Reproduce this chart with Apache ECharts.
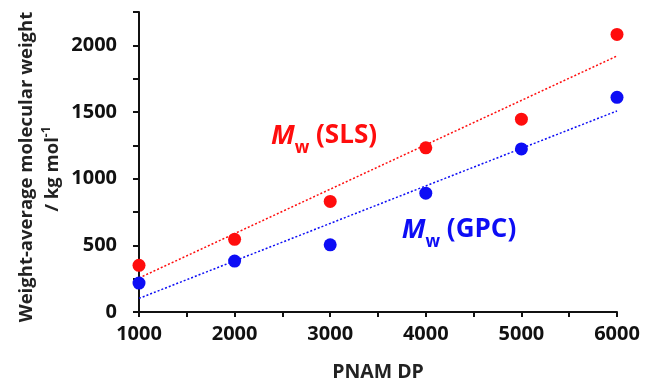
<!DOCTYPE html>
<html><head><meta charset="utf-8">
<script src="https://cdn.jsdelivr.net/npm/echarts@6/dist/echarts.min.js"></script>
<style>html,body{margin:0;padding:0;background:#fff}#c{width:650px;height:383px}</style>
</head><body><div id="c"></div>
<script>
const dp = [1000, 2000, 3000, 4000, 5000, 6000];
const mwSLS = [350, 545, 829, 1231, 1446, 2082];
const mwGPC = [217, 382, 504, 891, 1223, 1610];
const trendX = [1000, 6000];
const trendSLS = [255, 1920];
const trendGPC = [102, 1508];
const RED = '#ff0d0d', BLUE = '#0d0df5';
const FONT = 'Open Sans';
const chart = echarts.init(document.getElementById('c'));
const pairs = (xs, ys) => xs.map((x, i) => [x, ys[i]]);
chart.setOption({
  animation: false,
  textStyle: {fontFamily: FONT},
  grid: {left: 139, right: 33, top: 12, bottom: 71, containLabel: false, outerBoundsMode: 'none'},
  xAxis: {
    type: 'value', min: 1000, max: 6000, interval: 500,
    name: 'PNAM DP', nameLocation: 'middle', nameGap: 50,
    nameTextStyle: {fontFamily: FONT, fontWeight: 'bold', fontSize: 19.5, color: '#222'},
    axisLine: {lineStyle: {color: '#111', width: 2}},
    axisTick: {length: 5, lineStyle: {color: '#111', width: 2}},
    axisLabel: {fontFamily: FONT, fontWeight: 'bold', fontSize: 20, color: '#111', margin: 12,
      formatter: v => (v % 1000 === 0 ? String(v) : '')},
    splitLine: {show: false}
  },
  yAxis: {
    type: 'value', min: 0, max: 2250, interval: 250,
    axisLine: {show: true, lineStyle: {color: '#111', width: 2}},
    axisTick: {show: true, length: 6, lineStyle: {color: '#111', width: 2}},
    axisLabel: {fontFamily: FONT, fontWeight: 'bold', fontSize: 20, color: '#111', margin: 22,
      formatter: v => (v % 500 === 0 ? String(v) : '')},
    splitLine: {show: false}
  },
  series: [
    {type: 'line', data: pairs(trendX, trendSLS), symbol: 'none', z: 1,
      lineStyle: {color: RED, width: 1.5, type: [2, 2]}},
    {type: 'line', data: pairs(trendX, trendGPC), symbol: 'none', z: 1,
      lineStyle: {color: BLUE, width: 1.5, type: [2, 2]}},
    {type: 'scatter', data: pairs(dp, mwSLS), symbolSize: 13, z: 3, itemStyle: {color: RED, opacity: 1}},
    {type: 'scatter', data: pairs(dp, mwGPC), symbolSize: 13, z: 3, itemStyle: {color: BLUE, opacity: 1}}
  ],
  graphic: [
    {type: 'text', x: 27, y: 167, rotation: Math.PI / 2,
      style: {text: 'Weight-average molecular weight', fontFamily: FONT, fontWeight: 'bold', fontSize: 18.5,
        fill: '#222', align: 'center', verticalAlign: 'middle'}},
    {type: 'text', x: 53, y: 169, rotation: Math.PI / 2,
      style: {text: '/ kg mol{s|-1}', fontFamily: FONT, fontWeight: 'bold', fontSize: 18.5,
        fill: '#222', align: 'center', verticalAlign: 'middle',
        rich: {s: {fontSize: 12, fontWeight: 'bold', fontFamily: FONT, fill: '#222', verticalAlign: 'top', lineHeight: 24}}}},
    {type: 'text', x: 324, y: 136,
      style: {text: '{m|M}{w|w}{t| (SLS)}', align: 'center', verticalAlign: 'middle', fill: RED,
        rich: {
          m: {fontFamily: FONT, fontWeight: 'bold', fontStyle: 'italic', fontSize: 27, fill: RED},
          w: {fontFamily: FONT, fontWeight: 'bold', fontSize: 17, fill: RED, verticalAlign: 'bottom', lineHeight: 42},
          t: {fontFamily: FONT, fontWeight: 'bold', fontSize: 26, fill: RED}
        }}},
    {type: 'text', x: 459, y: 230,
      style: {text: '{m|M}{w|w}{t| (GPC)}', align: 'center', verticalAlign: 'middle', fill: BLUE,
        rich: {
          m: {fontFamily: FONT, fontWeight: 'bold', fontStyle: 'italic', fontSize: 27, fill: BLUE},
          w: {fontFamily: FONT, fontWeight: 'bold', fontSize: 17, fill: BLUE, verticalAlign: 'bottom', lineHeight: 42},
          t: {fontFamily: FONT, fontWeight: 'bold', fontSize: 26, fill: BLUE}
        }}}
  ]
});
</script></body></html>
